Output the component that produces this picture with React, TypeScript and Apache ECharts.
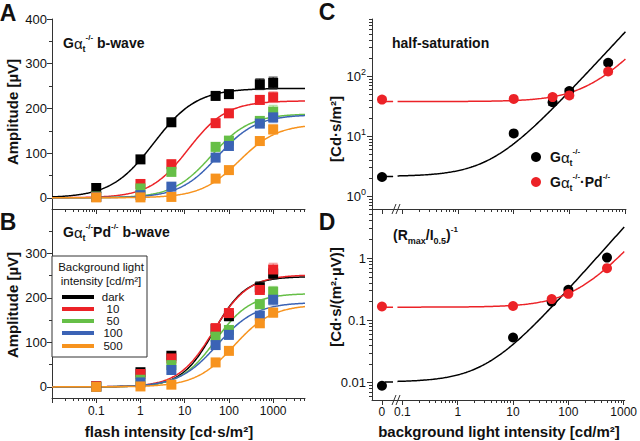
import React, { useEffect, useRef } from 'react';
import * as echarts from 'echarts';

// ---------- data ----------
const flashIntensity = [0.1, 1, 5, 50, 100, 500, 1000];
const conditionNames = ['dark', '10', '50', '100', '500'];
const conditionColors = ['#000000', '#ec2227', '#66bf47', '#3b63b5', '#f7931e'];
const errorColors = ['#222222', '#f28a8a', '#a9dc96', '#8fa8dd', '#fbbf80'];

// Panel A (Gat-/-) amplitudes [uV]
const aDark = [22, 86, 169, 228, 232, 254, 257];
const a10 = [2, 31, 75, 167, 189, 219, 225];
const a50 = [3, 21, 58, 114, 128, 172, 193];
const a100 = [2, 6, 25, 90, 116, 166, 180];
const a500 = [1, 1, 2, 43, 62, 127, 153];
const aDarkErr = [9, 8, 8, 9, 8, 12, 13];
const a10Err = [6, 6, 10, 8, 8, 10, 12];
const a50Err = [5, 6, 8, 9, 8, 10, 14];
const a100Err = [4, 5, 7, 9, 10, 8, 12];
const a500Err = [3, 3, 3, 5, 6, 10, 10];
const aRmax = [245, 217, 188, 186, 165];
const aHalf = [2, 12, 40, 56, 170];
const aHill = [0.9, 1, 1, 1, 1];

// Panel B (Gat-/-Pd-/-) amplitudes [uV]
const bDark = [1, 33, 70, 130, 159, 224, 255];
const b10 = [2, 29, 64, 132, 166, 218, 264];
const b50 = [0, 16, 49, 113, 128, 186, 214];
const b100 = [0, 10, 38, 94, 117, 160, 196];
const b500 = [0, 1, 5, 55, 81, 143, 167];
const bDarkErr = [4, 6, 6, 10, 10, 12, 12];
const b10Err = [5, 6, 8, 10, 10, 10, 14];
const b50Err = [4, 6, 8, 10, 10, 10, 12];
const b100Err = [4, 6, 7, 8, 10, 10, 12];
const b500Err = [4, 4, 4, 6, 6, 8, 10];
const bRmax = [248, 252, 210, 190, 185];
const bHalf = [45, 45, 50, 55, 130];
const bHill = [1.2, 1.1, 1.1, 1, 1];

// Panels C, D
const backgroundIntensity = [0, 10, 50, 100, 500];
const cGat = [2.1, 11.2, 37, 57, 168];
const cGatPd = [41, 42, 45, 48, 120];
const cGatErr = [0.15, 1.0, 4, 5, 14];
const cGatPdErr = [4, 4, 5, 5, 12];
const dGat = [0.0089, 0.053, 0.2, 0.31, 1.02];
const dGatPd = [0.167, 0.17, 0.22, 0.267, 0.69];
const cFit = [[2.15, 4], [38, 250]];       // y0, I0 for Gat-/-, Gat-/-Pd-/-
const dFit = [[0.0102, 3.3], [0.163, 150]];

// ---------- helpers ----------
const FONT = '"Liberation Sans", Arial, Helvetica, sans-serif';
const AX = '#333333';
const LOG = Math.log10;
const X0 = -1.37; // position of "0" on the broken background axis

const bgX = (v: number) => (v === 0 ? X0 : LOG(v));

function logTicks(lo: number, hi: number) {
  const major: number[] = [];
  const minor: number[] = [];
  for (let d = Math.floor(lo) - 1; d <= Math.ceil(hi); d++) {
    for (let k = 1; k <= 9; k++) {
      const v = d + LOG(k);
      if (v < lo - 1e-9 || v > hi + 1e-9) continue;
      (k === 1 ? major : minor).push(v);
    }
  }
  return { major, minor };
}

function hillCurve(rmax: number, half: number, n: number, lo: number, hi: number) {
  const pts: number[][] = [];
  for (let x = lo; x <= hi + 1e-9; x += 0.02) {
    const a = Math.pow(Math.pow(10, x), n);
    const b = Math.pow(half, n);
    pts.push([x, (rmax * a) / (a + b)]);
  }
  return pts;
}

function adaptCurve(y0: number, i0: number, lo: number, hi: number) {
  const pts: number[][] = [];
  for (let x = lo; x <= hi + 1e-9; x += 0.02) {
    pts.push([x, LOG(y0 * (1 + Math.pow(10, x) / i0))]);
  }
  return pts;
}

function errRender(color: string, cap: number) {
  return (params: any, api: any) => {
    const x = api.value(0);
    const lo = api.value(1);
    const hi = api.value(2);
    const a = api.coord([x, hi]);
    const b = api.coord([x, lo]);
    const st = { stroke: color, lineWidth: 1 };
    return {
      type: 'group',
      children: [
        { type: 'line', shape: { x1: a[0], y1: a[1], x2: b[0], y2: b[1] }, style: st },
        { type: 'line', shape: { x1: a[0] - cap, y1: a[1], x2: a[0] + cap, y2: a[1] }, style: st },
        { type: 'line', shape: { x1: b[0] - cap, y1: b[1], x2: b[0] + cap, y2: b[1] }, style: st },
      ],
    };
  };
}

function axis(o: any) {
  return {
    type: 'value',
    gridIndex: o.grid,
    position: o.pos,
    min: o.min,
    max: o.max,
    axisLine: { show: !!o.line, onZero: false, lineStyle: { color: AX, width: 1 } },
    axisTick: { show: true, inside: false, length: o.len, customValues: o.ticks, lineStyle: { color: AX, width: 1 } },
    axisLabel: o.labels
      ? {
          show: true,
          customValues: o.labels,
          formatter: o.fmt,
          color: '#111',
          fontSize: o.fontSize || 13,
          fontFamily: FONT,
          margin: o.margin,
          rich: o.rich,
        }
      : { show: false },
    splitLine: { show: false },
  };
}

const richTitle = (size: number) => ({
  a: { fontSize: size, fontWeight: 'bold', fontFamily: FONT, fill: '#111', lineHeight: 20 },
  g: { fontSize: size + 1, fontWeight: 'normal', fontFamily: FONT, fill: '#111', lineHeight: 20 },
  t: { fontSize: 9, fontWeight: 'bold', fontFamily: FONT, fill: '#111', lineHeight: 9, verticalAlign: 'bottom' },
  s: { fontSize: 8, fontWeight: 'bold', fontFamily: FONT, fill: '#111', lineHeight: 9, verticalAlign: 'top' },
});

export default function App() {
  const ref = useRef<HTMLDivElement>(null);

  useEffect(() => {
    if (!ref.current) return;
    const chart = echarts.init(ref.current, undefined, { renderer: 'svg' });

    const abX = logTicks(-2, 3.72);
    const cdX = logTicks(-1, 3.02);
    const cY = logTicks(-0.21, LOG(900));
    const dY = logTicks(-2.28, 0.79);

    const abLabel = (v: number) => ['0.01', '0.1', '1', '10', '100', '1000'][Math.round(v) + 2];
    const cdLabel = (v: number) => (v < -1.2 ? '0' : ['0.1', '1', '10', '100', '1000'][Math.round(v) + 1]);

    const grids = [
      { left: 52, top: 19, width: 253, height: 190 },
      { left: 52, top: 209, width: 253, height: 189 },
      { left: 372, top: 19, width: 254, height: 190 },
      { left: 372, top: 209, width: 254, height: 191 },
    ];

    const xAxis = [
      axis({ grid: 0, pos: 'bottom', min: -2, max: 3.72, line: true, len: 5, ticks: abX.major }),
      axis({ grid: 0, pos: 'bottom', min: -2, max: 3.72, line: false, len: 3, ticks: abX.minor }),
      axis({ grid: 1, pos: 'bottom', min: -2, max: 3.72, line: true, len: 5, ticks: abX.major, labels: [-1, 0, 1, 2, 3], fmt: abLabel, fontSize: 12, margin: 7 }),
      axis({ grid: 1, pos: 'bottom', min: -2, max: 3.72, line: false, len: 3, ticks: abX.minor }),
      axis({ grid: 2, pos: 'bottom', min: -1.55, max: 3.02, line: true, len: 5, ticks: [X0, ...cdX.major] }),
      axis({ grid: 2, pos: 'bottom', min: -1.55, max: 3.02, line: false, len: 3, ticks: cdX.minor }),
      axis({ grid: 3, pos: 'bottom', min: -1.55, max: 3.02, line: true, len: 5, ticks: [X0, ...cdX.major], labels: [X0, -1, 0, 1, 2, 3], fmt: cdLabel, fontSize: 12, margin: 6 }),
      axis({ grid: 3, pos: 'bottom', min: -1.55, max: 3.02, line: false, len: 3, ticks: cdX.minor }),
    ];

    const yAxis = [
      axis({ grid: 0, pos: 'left', min: -25, max: 400, line: true, len: 5, ticks: [0, 100, 200, 300, 400], labels: [0, 100, 200, 300, 400], fmt: (v: number) => String(v), margin: 5 }),
      axis({ grid: 0, pos: 'left', min: -25, max: 400, line: false, len: 3, ticks: [50, 150, 250, 350] }),
      axis({ grid: 1, pos: 'left', min: -25, max: 400, line: true, len: 5, ticks: [0, 100, 200, 300], labels: [0, 100, 200, 300], fmt: (v: number) => String(v), margin: 5 }),
      axis({ grid: 1, pos: 'left', min: -25, max: 400, line: false, len: 3, ticks: [50, 150, 250, 350] }),
      axis({
        grid: 2, pos: 'left', min: -0.21, max: LOG(900), line: true, len: 5, ticks: cY.major, labels: [0, 1, 2],
        fmt: (v: number) => `{b|10}{s|${Math.round(v)}}`, margin: 6,
        rich: {
          b: { fontSize: 13, fontFamily: FONT, color: '#111', lineHeight: 18 },
          s: { fontSize: 9, fontFamily: FONT, color: '#111', lineHeight: 9, verticalAlign: 'top' },
        },
      }),
      axis({ grid: 2, pos: 'left', min: -0.21, max: LOG(900), line: false, len: 3, ticks: cY.minor }),
      axis({ grid: 3, pos: 'left', min: -2.28, max: 0.79, line: true, len: 5, ticks: dY.major, labels: [-2, -1, 0], fmt: (v: number) => ['0.01', '0.1', '1'][Math.round(v) + 2], margin: 6 }),
      axis({ grid: 3, pos: 'left', min: -2.28, max: 0.79, line: false, len: 3, ticks: dY.minor }),
    ];

    const series: any[] = [];

    const ampPanels = [
      { ax: 0, data: [aDark, a10, a50, a100, a500], err: [aDarkErr, a10Err, a50Err, a100Err, a500Err], rmax: aRmax, half: aHalf, n: aHill },
      { ax: 2, data: [bDark, b10, b50, b100, b500], err: [bDarkErr, b10Err, b50Err, b100Err, b500Err], rmax: bRmax, half: bHalf, n: bHill },
    ];
    ampPanels.forEach((p) => {
      conditionNames.forEach((name, i) => {
        series.push({
          type: 'line', name: name + ' fit', xAxisIndex: p.ax, yAxisIndex: p.ax, showSymbol: false, silent: true, z: 2,
          lineStyle: { color: conditionColors[i], width: 1.5 },
          data: hillCurve(p.rmax[i], p.half[i], p.n[i], -2, 3.72),
        });
        series.push({
          type: 'custom', name: name + ' err', xAxisIndex: p.ax, yAxisIndex: p.ax, silent: true, z: 3,
          renderItem: errRender(errorColors[i], 4.5),
          encode: { x: 0, y: [1, 2] },
          data: flashIntensity.map((f, k) => [LOG(f), p.data[i][k] - p.err[i][k], p.data[i][k] + p.err[i][k]]),
        });
      });
      conditionNames.forEach((name, i) => {
        series.push({
          type: 'scatter', name, xAxisIndex: p.ax, yAxisIndex: p.ax, symbol: 'rect', symbolSize: 10, z: 4,
          itemStyle: { color: conditionColors[i], opacity: 1 },
          data: flashIntensity.map((f, k) => [LOG(f), p.data[i][k]]),
        });
      });
    });

    const bgPanels = [
      { ax: 4, data: [cGat, cGatPd], err: [cGatErr, cGatPdErr], fit: cFit },
      { ax: 6, data: [dGat, dGatPd], err: null as any, fit: dFit },
    ];
    const bgColors = ['#000000', '#ec2227'];
    const bgErrColors = ['#222222', '#f28a8a'];
    bgPanels.forEach((p) => {
      [0, 1].forEach((j) => {
        const [y0, i0] = p.fit[j];
        series.push({
          type: 'line', xAxisIndex: p.ax, yAxisIndex: p.ax, showSymbol: false, silent: true, z: 2,
          lineStyle: { color: bgColors[j], width: 1.5 },
          data: [[-1.32, LOG(y0)], [-1.17, LOG(y0)]],
        });
        series.push({
          type: 'line', xAxisIndex: p.ax, yAxisIndex: p.ax, showSymbol: false, silent: true, z: 2,
          lineStyle: { color: bgColors[j], width: 1.5 },
          data: adaptCurve(y0, i0, -1.09, 3.02),
        });
        if (p.err) {
          series.push({
            type: 'custom', xAxisIndex: p.ax, yAxisIndex: p.ax, silent: true, z: 3,
            renderItem: errRender(bgErrColors[j], 4.5),
            encode: { x: 0, y: [1, 2] },
            data: backgroundIntensity.map((b, k) => [bgX(b), LOG(p.data[j][k] - p.err[j][k]), LOG(p.data[j][k] + p.err[j][k])]),
          });
        }
        series.push({
          type: 'scatter', xAxisIndex: p.ax, yAxisIndex: p.ax, symbol: 'circle', symbolSize: 10, z: 4,
          itemStyle: { color: bgColors[j], opacity: 1 },
          data: backgroundIntensity.map((b, k) => [bgX(b), LOG(p.data[j][k])]),
        });
      });
    });

    const txt = (x: number, y: number, text: string, size: number, extra: any = {}) => ({
      type: 'text', x, y, z: 100, rotation: extra.rotation || 0,
      style: {
        text, fill: '#111', fontSize: size, fontWeight: extra.weight || 'bold', fontFamily: FONT,
        textAlign: extra.align || 'center', textVerticalAlign: 'middle', rich: extra.rich,
        lineHeight: extra.lineHeight,
      },
    });

    const breakMarks = (cy: number) => [
      { type: 'line', z: 100, shape: { x1: 392, y1: cy + 5, x2: 396, y2: cy - 5 }, style: { stroke: AX, lineWidth: 1 } },
      { type: 'line', z: 100, shape: { x1: 396, y1: cy + 5, x2: 400, y2: cy - 5 }, style: { stroke: AX, lineWidth: 1 } },
    ];

    const legendRows = [297, 309, 321, 333, 346];

    const graphic: any[] = [
      txt(8, 13, 'A', 23),
      txt(8, 222, 'B', 23),
      txt(327, 12, 'C', 23),
      txt(327, 222, 'D', 23),
      txt(63, 43, '{a|G}{g|α}{t|t}{s|-/-}{a| b-wave}', 14, { align: 'left', rich: richTitle(14) }),
      txt(63, 232, '{a|G}{g|α}{t|t}{s|-/-}{a|Pd}{s|-/-}{a| b-wave}', 14, { align: 'left', rich: richTitle(14) }),
      txt(392, 43, 'half-saturation', 14, { align: 'left' }),
      txt(393, 235, '{a|(R}{t|max}{a|/I}{t|0.5}{a|)}{s|-1}', 14, { align: 'left', rich: richTitle(14) }),
      txt(12, 112, 'Amplitude [µV]', 15, { rotation: Math.PI / 2 }),
      txt(12, 305, 'Amplitude [µV]', 15, { rotation: Math.PI / 2 }),
      txt(335, 129, '[Cd·s/m²]', 15, { rotation: Math.PI / 2 }),
      txt(335, 297, '[Cd·s/(m²·µV)]', 15, { rotation: Math.PI / 2 }),
      txt(169, 431, 'flash intensity [cd·s/m²]', 15),
      txt(499, 431, 'background light intensity [cd/m²]', 15),
      // C legend
      { type: 'circle', z: 100, shape: { cx: 536, cy: 157, r: 5 }, style: { fill: '#000' } },
      { type: 'circle', z: 100, shape: { cx: 536, cy: 182, r: 5 }, style: { fill: '#ec2227' } },
      txt(550, 157, '{a|G}{g|α}{t|t}{s|-/-}', 14, { align: 'left', rich: richTitle(14) }),
      txt(550, 182, '{a|G}{g|α}{t|t}{s|-/-}{a|·Pd}{s|-/-}', 14, { align: 'left', rich: richTitle(14) }),
      // B legend
      { type: 'rect', z: 90, shape: { x: 52, y: 256, width: 95, height: 101 }, style: { fill: '#fff', stroke: AX, lineWidth: 1 } },
      txt(101, 267, 'Background light', 11.5, { weight: 'normal', lineHeight: 12 }),
      txt(101, 281, 'intensity [cd/m²]', 11.5, { weight: 'normal', lineHeight: 12 }),
      ...breakMarks(209),
      ...breakMarks(400),
    ];
    conditionNames.forEach((name, i) => {
      graphic.push({ type: 'line', z: 100, shape: { x1: 62, y1: legendRows[i], x2: 94, y2: legendRows[i] }, style: { stroke: conditionColors[i], lineWidth: 4 } });
      graphic.push(txt(113, legendRows[i], name, 11.5, { weight: 'normal', lineHeight: 11 }));
    });

    chart.setOption({
      animation: false,
      backgroundColor: '#ffffff',
      textStyle: { fontFamily: FONT },
      grid: grids,
      xAxis,
      yAxis,
      series,
      graphic,
    });

    return () => chart.dispose();
  }, []);

  return <div ref={ref} style={{ position: 'absolute', left: 0, top: 0, width: 640, height: 441 }} />;
}
